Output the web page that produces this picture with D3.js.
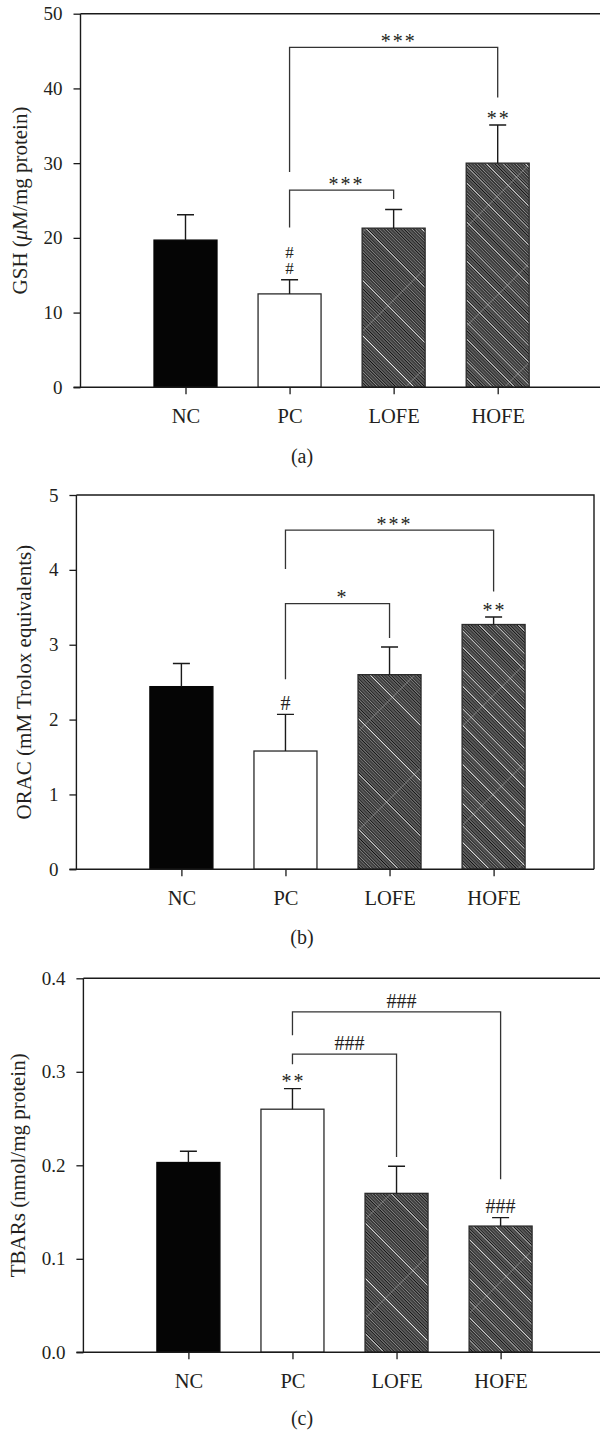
<!DOCTYPE html>
<html><head><meta charset="utf-8">
<script src="https://cdn.jsdelivr.net/npm/d3@7"></script>
<style>
body{margin:0;background:#fff}
svg{display:block}
text{font-family:"Liberation Serif","Times New Roman",serif;fill:#231f20}
</style>
</head><body>
<svg id="chart" width="600" height="1433"></svg>
<script>
// ---------------- data ----------------
const categories = ["NC", "PC", "LOFE", "HOFE"];

const gshMeans = [19.7, 12.5, 21.3, 30.0];
const gshSD    = [3.4, 1.9, 2.5, 5.1];
const gshTicks = [0, 10, 20, 30, 40, 50];

const oracMeans = [2.44, 1.58, 2.60, 3.27];
const oracSD    = [0.31, 0.49, 0.37, 0.10];
const oracTicks = [0, 1, 2, 3, 4, 5];

const tbarsMeans = [0.203, 0.260, 0.170, 0.135];
const tbarsSD    = [0.012, 0.022, 0.029, 0.009];
const tbarsTicks = [0.0, 0.1, 0.2, 0.3, 0.4];

// comparison brackets: [from, to, bracket level, left leg end, right leg end, label]
const gshBrackets   = [["PC","HOFE",45.5,28.8,38.8,"***"], ["PC","LOFE",26.4,21.4,25.2,"***"]];
const oracBrackets  = [["PC","HOFE",4.53,4.01,3.71,"***"], ["PC","LOFE",3.55,2.54,3.09,"*"]];
const tbarsBrackets = [["PC","HOFE",0.364,0.339,0.185,"###"], ["PC","LOFE",0.319,0.308,0.209,"###"]];

// significance marks above bars: [category, lines of text (top to bottom)]
const gshMarks   = [["PC", ["#", "#"]], ["HOFE", ["**"]]];
const oracMarks  = [["PC", ["#"]], ["HOFE", ["**"]]];
const tbarsMarks = [["PC", ["**"]], ["HOFE", ["###"]]];

// ---------------- drawing ----------------
const svg = d3.select("#chart");
const defs = svg.append("defs");

function makeHatch(id, n, whites) {
  const s = 2.3, W = 60, H = s * n;
  const p = defs.append("pattern").attr("id", id)
    .attr("patternUnits", "userSpaceOnUse")
    .attr("width", W).attr("height", H)
    .attr("patternTransform", "rotate(45)");
  p.append("rect").attr("width", W).attr("height", H).attr("fill", "#8a8a8a");
  for (let i = 0; i < n; i++) {
    if (whites.includes(i)) {
      p.append("rect").attr("y", i * s + s / 2).attr("width", W).attr("height", s / 2).attr("fill", "#f4f4f4");
    }
    p.append("rect").attr("y", i * s).attr("width", W).attr("height", s / 2).attr("fill", "#0e0e0e");
  }
}
makeHatch("hatchL", 17, [8]);
makeHatch("hatchH", 12, [3, 8]);
const zz = defs.append("pattern").attr("id", "zig")
  .attr("patternUnits", "userSpaceOnUse")
  .attr("width", 80).attr("height", 70)
  .attr("patternTransform", "rotate(-45)");
zz.append("rect").attr("width", 80).attr("height", 0.8).attr("fill", "#b8b8b8").attr("opacity", 0.45);

const fills = {NC: "#050505", PC: "#ffffff", LOFE: "url(#hatchL)", HOFE: "url(#hatchH)"};

const panels = [
  {means: gshMeans, sd: gshSD, ticks: gshTicks, fmt: d3.format("d"), title: ["GSH (", "μ", "M/mg protein)"],
   brackets: gshBrackets, marks: gshMarks, caption: "(a)",
   axisX: 80.5, top: 13.7, bottom: 387.3, right: 601, titleX: 26.5, captionY: 462.7},
  {means: oracMeans, sd: oracSD, ticks: oracTicks, fmt: d3.format("d"), title: ["ORAC (mM Trolox equivalents)"],
   brackets: oracBrackets, marks: oracMarks, caption: "(b)",
   axisX: 76.4, top: 495, bottom: 869.3, right: 594, titleX: 30.5, captionY: 944.3},
  {means: tbarsMeans, sd: tbarsSD, ticks: tbarsTicks, fmt: d3.format(".1f"), title: ["TBARs (nmol/mg protein)"],
   brackets: tbarsBrackets, marks: tbarsMarks, caption: "(c)",
   axisX: 83.4, top: 978.3, bottom: 1352.3, right: 601, titleX: 24.7, captionY: 1425.3}
];

const BAR_W = 63, CAP = 8.5;

panels.forEach(P => {
  const ymax = P.ticks[P.ticks.length - 1];
  const y = d3.scaleLinear().domain([0, ymax]).range([P.bottom, P.top]);
  const x = d3.scalePoint().domain(categories).range([P.axisX + 105, P.axisX + 105 + 312.2]);
  const g = svg.append("g");

  // frame (top & right)
  g.append("path")
    .attr("d", `M${P.axisX},${P.top}H${P.right}V${P.bottom}`)
    .attr("fill", "none").attr("stroke", "#1a1a1a").attr("stroke-width", 1.4);

  // bars
  const data = categories.map((c, i) => ({c, m: P.means[i], e: P.means[i] + P.sd[i]}));
  g.selectAll("rect.bar").data(data).join("rect").attr("class", "bar")
    .attr("x", d => x(d.c) - BAR_W / 2).attr("width", BAR_W)
    .attr("y", d => y(d.m)).attr("height", d => y(0) - y(d.m))
    .attr("fill", d => fills[d.c])
    .attr("stroke", d => d.c === "NC" ? "#050505" : "#2a2a2a").attr("stroke-width", 1.3);
  g.selectAll("rect.zig").data(data.filter(d => d.c === "LOFE" || d.c === "HOFE")).join("rect").attr("class", "zig")
    .attr("x", d => x(d.c) - BAR_W / 2 + 1).attr("width", BAR_W - 2)
    .attr("y", d => y(d.m) + 1).attr("height", d => y(0) - y(d.m) - 2)
    .attr("fill", "url(#zig)");

  // error bars (upper only)
  g.selectAll("path.err").data(data).join("path").attr("class", "err")
    .attr("d", d => `M${x(d.c)},${y(d.m)}V${y(d.e)}M${x(d.c) - CAP},${y(d.e)}H${x(d.c) + CAP}`)
    .attr("fill", "none").attr("stroke", "#1a1a1a").attr("stroke-width", 1.4);

  // axes
  const yAxis = d3.axisLeft(y).tickValues(P.ticks).tickFormat(P.fmt).tickSize(7).tickPadding(11);
  const ya = g.append("g").attr("transform", `translate(${P.axisX},0)`).call(yAxis);
  const xAxis = d3.axisBottom(x).tickSize(7).tickPadding(14).tickSizeOuter(0);
  const xa = g.append("g").attr("transform", `translate(0,${P.bottom})`).call(xAxis);
  [ya, xa].forEach(a => {
    a.select(".domain").attr("stroke", "#1a1a1a").attr("stroke-width", 1.4);
    a.selectAll(".tick line").attr("stroke", "#1a1a1a").attr("stroke-width", 1.3);
    a.selectAll("text").attr("fill", "#231f20").attr("font-family", "Liberation Serif, serif");
  });
  ya.selectAll("text").attr("font-size", 19);
  xa.selectAll("text").attr("font-size", 20.5);
  xa.select(".domain").attr("d", `M${P.axisX - 7},0H${P.right}`);
  ya.select(".domain").attr("d", `M0,${y(0)}V${y(ymax)}`);

  // y title
  const t = g.append("text")
    .attr("transform", `translate(${P.titleX},${(P.top + P.bottom) / 2}) rotate(-90)`)
    .attr("text-anchor", "middle").attr("font-size", 21);
  P.title.forEach(s => {
    const ts = t.append("tspan").text(s);
    if (s === "μ") ts.attr("font-style", "italic");
  });

  // brackets
  P.brackets.forEach(([a, b, lv, le, re, lab]) => {
    g.append("path")
      .attr("d", `M${x(a)},${y(le)}V${y(lv)}H${x(b)}V${y(re)}`)
      .attr("fill", "none").attr("stroke", "#333").attr("stroke-width", 1.3);
    const isHash = lab[0] === "#";
    const cy = y(lv) - (isHash ? 11 : 9.2);
    g.append("text")
      .attr("x", (x(a) + x(b)) / 2 + 5)
      .attr("y", cy + (isHash ? 6.8 : 10))
      .attr("text-anchor", "middle").attr("font-size", 20)
      .attr("letter-spacing", isHash ? 0 : 2)
      .attr("fill", "#333")
      .text(lab);
  });

  // marks above bars (one text element, stacked lines as tspans)
  P.marks.forEach(([c, lines]) => {
    const i = categories.indexOf(c);
    const top = y(P.means[i] + P.sd[i]);
    const isHash = lines[0][0] === "#";
    const stacked = lines.length > 1;
    const fs = stacked ? 17 : 20;
    const lineGap = 16.5;
    const lastCy = top - (isHash ? 11 : 10.5);
    const firstCy = lastCy - (lines.length - 1) * lineGap;
    const txt = g.append("text")
      .attr("text-anchor", "middle").attr("font-size", fs)
      .attr("letter-spacing", isHash ? 0 : 2)
      .attr("fill", "#333");
    lines.forEach((lab, k) => {
      txt.append("tspan")
        .attr("x", x(c) + (!isHash ? 1 : 0))
        .attr("y", firstCy + k * lineGap + (isHash ? 0.34 * fs : 0.5 * fs))
        .text(lab);
    });
  });

  // caption
  g.append("text").attr("x", 302).attr("y", P.captionY)
    .attr("text-anchor", "middle").attr("font-size", 20).text(P.caption);
});
</script>
</body></html>
